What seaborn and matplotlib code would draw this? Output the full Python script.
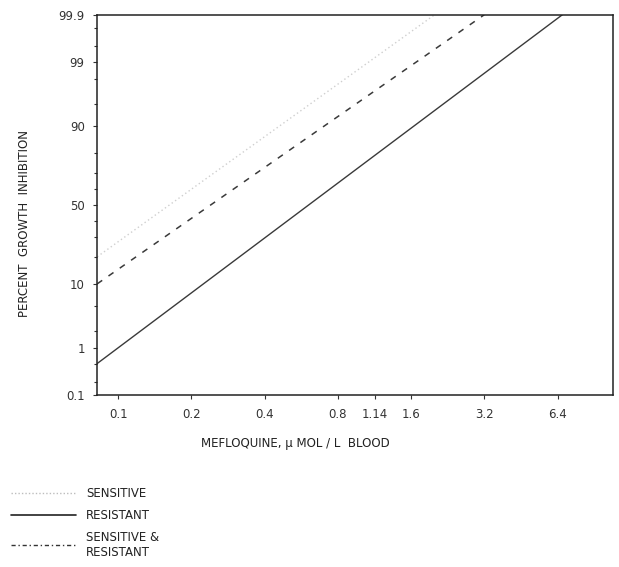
import numpy as np
import pandas as pd
import matplotlib
matplotlib.use("Agg")
import matplotlib.pyplot as plt
import seaborn as sns
from statistics import NormalDist
from matplotlib.lines import Line2D

# ---- data ----
sens_conc = [0.082, 2.0]
sens_pct = [20.0, 99.9]
res_conc = [0.082, 6.7]
res_pct = [0.5, 99.9]
both_conc = [0.082, 3.2]
both_pct = [10.0, 99.9]

x_ticks = [0.1, 0.2, 0.4, 0.8, 1.14, 1.6, 3.2, 6.4]
x_ticklabels = ["0.1", "0.2", "0.4", "0.8", "1.14", "1.6", "3.2", "6.4"]
y_ticks = [0.1, 1, 10, 50, 90, 99, 99.9]
y_ticklabels = ["0.1", "1", "10", "50", "90", "99", "99.9"]
y_minor = [0.2, 0.5, 2, 5, 20, 30, 40, 60, 70, 80, 95, 98, 99.5, 99.8]

sns.set_style("ticks")
plt.rcParams['font.family'] = ['DejaVu Sans']

_nd = NormalDist()

def fwd(p):
    p = np.asarray(p, dtype=float)
    q = np.clip(p / 100.0, 1e-6, 1 - 1e-6)
    return np.vectorize(_nd.inv_cdf)(q)

def inv(z):
    z = np.asarray(z, dtype=float)
    return np.vectorize(_nd.cdf)(z) * 100.0

fig = plt.figure(figsize=(6.19, 5.67), dpi=100)
ax = fig.add_axes([0.157, 0.303, 0.833, 0.671])

df_s = pd.DataFrame({"conc": sens_conc, "pct": sens_pct})
df_r = pd.DataFrame({"conc": res_conc, "pct": res_pct})
df_b = pd.DataFrame({"conc": both_conc, "pct": both_pct})

sns.lineplot(data=df_s, x="conc", y="pct", ax=ax, color="#cfcfcf", lw=1.0,
             linestyle=(0, (1, 2)))
sns.lineplot(data=df_r, x="conc", y="pct", ax=ax, color="#3a3a3a", lw=1.0)
sns.lineplot(data=df_b, x="conc", y="pct", ax=ax, color="#3a3a3a", lw=1.1,
             linestyle=(0, (4, 5)))

ax.set_xscale("log")
ax.set_yscale("function", functions=(fwd, inv))
ax.set_xlim(0.082, 10.8)
ax.set_ylim(0.1, 99.9)

ax.set_xticks(x_ticks)
ax.set_xticklabels(x_ticklabels)
ax.xaxis.set_minor_locator(matplotlib.ticker.NullLocator())
ax.set_yticks(y_ticks)
ax.set_yticklabels(y_ticklabels)
ax.set_yticks(y_minor, minor=True)

ax.tick_params(axis="both", which="major", labelsize=8.5, length=3, width=0.8,
               colors="#333333", pad=6)
ax.tick_params(axis="y", which="minor", length=2, width=0.8, color="#333333")
for s in ax.spines.values():
    s.set_visible(True)
    s.set_color("#222222")
    s.set_linewidth(1.1)

ax.set_xlabel("MEFLOQUINE, \u00b5 MOL / L  BLOOD", fontsize=8.5,
              color="#222222")
ax.xaxis.set_label_coords(0.384, -0.11)
ax.set_ylabel("PERCENT  GROWTH  INHIBITION", fontsize=8.5, color="#222222")
ax.yaxis.set_label_coords(-0.128, 0.45)

handles = [
    Line2D([], [], color="#bdbdbd", lw=1.0, linestyle=(0, (1, 1.5))),
    Line2D([], [], color="#222222", lw=1.2),
    Line2D([], [], color="#333333", lw=1.0, linestyle=(0, (3, 2, 1, 2))),
]
labels = ["SENSITIVE", "RESISTANT", "SENSITIVE &\nRESISTANT"]
fig.legend(handles, labels, loc="upper left", bbox_to_anchor=(0.0, 0.16),
           frameon=False, fontsize=8.5, handlelength=5.5, handletextpad=0.9,
           labelspacing=0.75, labelcolor="#222222")

fig.savefig("out.png", dpi=100, facecolor="white")
